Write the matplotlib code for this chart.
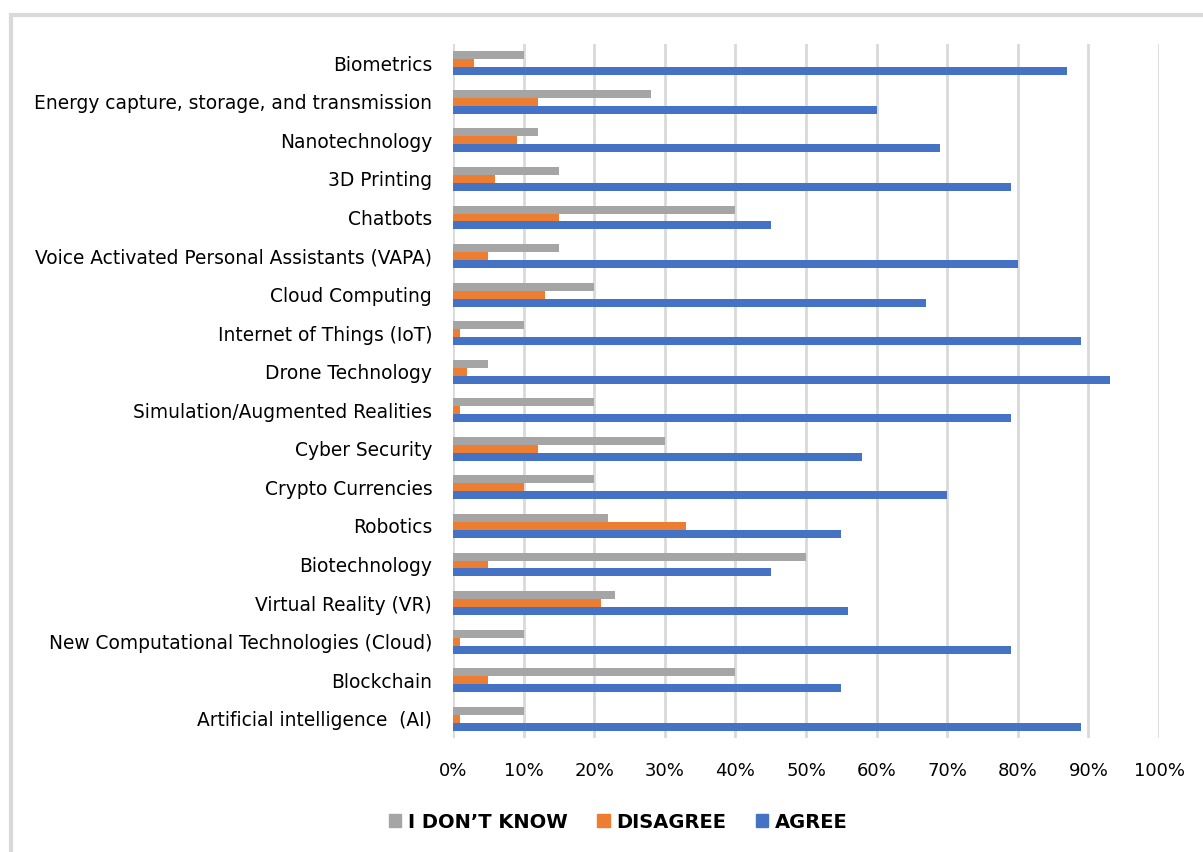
import matplotlib.pyplot as plt
import numpy as np
from matplotlib.patches import Rectangle, Patch

# technologies, top to bottom
categories = ['Biometrics',
              'Energy capture, storage, and transmission',
              'Nanotechnology',
              '3D Printing',
              'Chatbots',
              'Voice Activated Personal Assistants (VAPA)',
              'Cloud Computing',
              'Internet of Things (IoT)',
              'Drone Technology',
              'Simulation/Augmented Realities',
              'Cyber Security',
              'Crypto Currencies',
              'Robotics',
              'Biotechnology',
              'Virtual Reality (VR)',
              'New Computational Technologies (Cloud)',
              'Blockchain',
              'Artificial intelligence  (AI)']

dont_know = [10, 28, 12, 15, 40, 15, 20, 10, 5, 20, 30, 20, 22, 50, 23, 10, 40, 10]
disagree = [3, 12, 9, 6, 15, 5, 13, 1, 2, 1, 12, 10, 33, 5, 21, 1, 5, 1]
agree = [87, 60, 69, 79, 45, 80, 67, 89, 93, 79, 58, 70, 55, 45, 56, 79, 55, 89]

xticks = np.arange(0, 101, 10)
xlabels = [f'{t}%' for t in xticks]

c_gray = '#A5A5A5'
c_orange = '#ED7D31'
c_blue = '#4472C4'

plt.rcParams['font.family'] = 'DejaVu Sans'

fig = plt.figure(figsize=(12.03, 8.52), dpi=100)
ax = fig.add_axes([453/1203, 1 - 738/852, (1159 - 453)/1203, (738 - 44)/852])

n = len(categories)
y = np.arange(n)[::-1]
h = 0.207

ax.barh(y + h, dont_know, height=h, color=c_gray, zorder=3)
ax.barh(y, disagree, height=h, color=c_orange, zorder=3)
ax.barh(y - h, agree, height=h, color=c_blue, zorder=3)

ax.set_xlim(0, 100)
ax.set_ylim(-0.5, n - 0.5)
ax.set_xticks(xticks)
ax.set_xticklabels(xlabels, fontsize=13)
ax.set_yticks(y)
ax.set_yticklabels(categories, fontsize=13.4)
ax.tick_params(axis='both', length=0, colors='black')
ax.tick_params(axis='x', pad=17)
ax.tick_params(axis='y', pad=15)
ax.grid(axis='x', color='#d9d9d9', linewidth=2, zorder=0)
for s in ax.spines.values():
    s.set_visible(False)

handles = [Patch(color=c_gray, label='I DON\u2019T KNOW'),
           Patch(color=c_orange, label='DISAGREE'),
           Patch(color=c_blue, label='AGREE')]
fig.legend(handles=handles, loc='center', bbox_to_anchor=(0.514, 1 - 822/852),
           ncol=3, frameon=False, handlelength=0.65, handleheight=0.65,
           handletextpad=0.35, columnspacing=1.5,
           prop={'weight': 'bold', 'size': 14})

# outer chart frame
fig.patches.append(Rectangle((11/1203, -0.1), 1.2, 1 - 15/852 + 0.1,
                             transform=fig.transFigure, fill=False,
                             edgecolor='#d9d9d9', linewidth=3))

fig.savefig('out.png', dpi=100)
